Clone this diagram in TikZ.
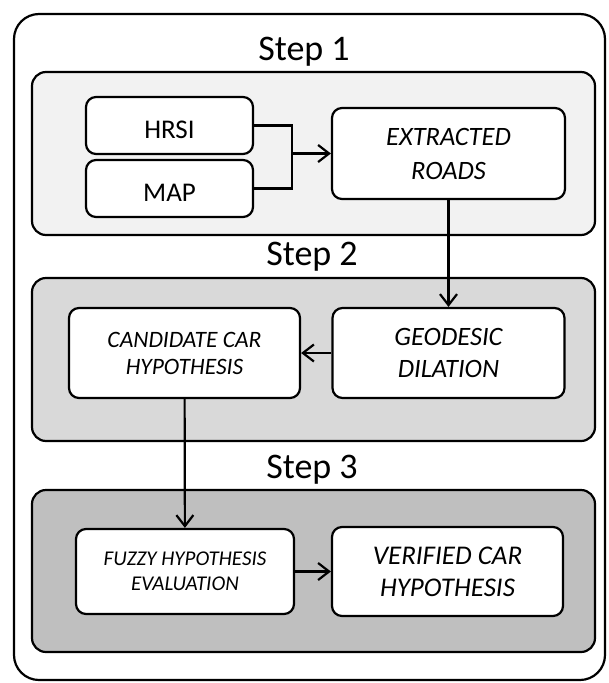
\documentclass[tikz,border=0pt]{standalone}
\usepackage{fontspec}
\setmainfont{Carlito}
\usepackage{tikz}
\usetikzlibrary{arrows.meta,positioning}

\definecolor{stepone}{HTML}{F2F2F2}
\definecolor{steptwo}{HTML}{D9D9D9}
\definecolor{stepthree}{HTML}{BFBFBF}

\begin{document}
\begin{tikzpicture} [x=1pt,y=-1pt,line width=2.2pt,>={Straight Barb[length=11pt,width=17pt]},
  stage/.style={draw,rounded corners=14pt,minimum width=563pt,minimum height=163pt,inner sep=0pt},
  blk/.style={draw,fill=white,rounded corners=10pt,align=center,inner sep=0pt},
  steplbl/.style={anchor=base,inner sep=0pt,font=\fontsize{36}{40}\selectfont}]
\useasboundingbox (0,0) rectangle (609,683);

% frames
\node[draw,rounded corners=25pt,minimum width=591pt,minimum height=666pt,inner sep=0pt] (frame) at (309.5,347) {};
\node[stage,fill=stepone] (s1) at (313.5,153.5) {};
\node[stage,fill=steptwo] (s2) at (313.5,359.5) {};
\node[stage,fill=stepthree,minimum height=162pt] (s3) at (313.5,571) {};
\node[steplbl] (t1) at (304,60) {Step 1};
\node[steplbl] (t2) at (312,265) {Step 2};
\node[steplbl] (t3) at (312,478) {Step 3};

% blocks
\node[blk,minimum width=167pt,minimum height=57pt,text height=26pt,text depth=0pt,font=\fontsize{27}{33}\selectfont] (hrsi) at (169.5,125.5) {HRSI};
\node[blk,minimum width=167pt,minimum height=57pt,text height=26pt,text depth=0pt,font=\fontsize{27}{33}\selectfont] (map) at (169.5,188.5) {MAP};
\node[blk,minimum width=233pt,minimum height=91pt,font=\fontsize{26.5}{34}\selectfont\itshape] (roads) at (448.5,153.5) {EXTRACTED\\ROADS};
\node[blk,minimum width=232pt,minimum height=90pt,font=\fontsize{26.5}{32}\selectfont\itshape] (geo) at (448.5,353) {GEODESIC\\DILATION};
\node[blk,minimum width=231pt,minimum height=90pt,font=\fontsize{23.5}{27}\selectfont\itshape] (cand) at (184.5,353) {CANDIDATE CAR\\HYPOTHESIS};
\node[blk,minimum width=218pt,minimum height=85pt,font=\fontsize{21}{25}\selectfont\itshape] (fuzzy) at (185,571.5) {FUZZY HYPOTHESIS\\EVALUATION};
\node[blk,minimum width=231pt,minimum height=89pt,font=\fontsize{27}{32}\selectfont\itshape] (verif) at (447.5,571.5) {VERIFIED CAR\\HYPOTHESIS};

\coordinate (join) at (292,153.5);
\draw (hrsi.east) -| (join) |- (map.east);
\draw [->] (join) -- (roads.west);

\foreach \from/\to in {roads/geo,geo/cand,cand/fuzzy,fuzzy/verif}
\draw [->] (\from) -- (\to);
\end{tikzpicture}
\end{document}
